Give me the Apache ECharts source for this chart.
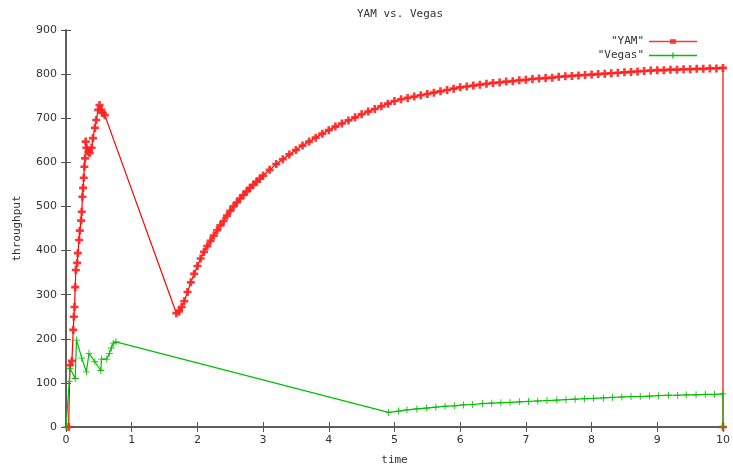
<!DOCTYPE html>
<html>
<head>
<meta charset="utf-8">
<script src="https://cdn.jsdelivr.net/npm/echarts@6/dist/echarts.min.js"></script>
<style>html,body{margin:0;padding:0;background:#fff}#c{width:733px;height:466px}</style>
</head>
<body>
<div id="c"></div>
<script>
var titleText = 'YAM vs. Vegas';
var xName = 'time';
var yName = 'throughput';
var seriesNames = ['"YAM"', '"Vegas"'];
var xTicks = [0,1,2,3,4,5,6,7,8,9,10];
var yTicks = [0,100,200,300,400,500,600,700,800,900];

var yamT = [0.04,0.06,0.09,0.11,0.12,0.13,0.14,0.15,0.17,0.18,0.20,0.21,0.23,0.24,0.25,0.26,0.27,0.28,0.29,0.31,0.30,0.34,0.36,0.39,0.41,0.44,0.46,0.49,0.51,0.54,0.56,0.59,
  1.68,1.72,1.76,1.8,1.85,1.9,1.95,2.0,2.05,2.1,2.15,2.2,2.25,2.3,2.35,2.4,2.45,2.5,2.55,2.6,2.65,2.7,2.75,2.8,2.85,2.9,2.95,
  3.0,3.1,3.2,3.3,3.4,3.5,3.6,3.7,3.8,3.9,4.0,4.1,4.2,4.3,4.4,4.5,4.6,4.7,4.8,4.9,
  5.0,5.1,5.2,5.3,5.4,5.5,5.6,5.7,5.8,5.9,6.0,6.1,6.2,6.3,6.4,6.5,6.6,6.7,6.8,6.9,7.0,7.1,7.2,7.3,7.4,7.5,7.6,7.7,7.8,7.9,
  8.0,8.1,8.2,8.3,8.4,8.5,8.6,8.7,8.8,8.9,9.0,9.1,9.2,9.3,9.4,9.5,9.6,9.7,9.8,9.9,10.0,10.0];
var yamV = [0,140,150,220,250,272,317,356,372,394,424,445,468,488,522,542,565,590,609,633,647,624,621,633,655,678,696,719,730,719,712,707,
  258,262,272,285,306,328,347,365,382,397,410,422,434,446,457,467,479,490,500,509,518,526,534,542,549,556,563,
  570,583,596,607,618,628,638,647,656,665,673,681,688,695,702,709,715,721,727,733,
  739,743,746,749,752,755,758,761,764,767,770,772,774,776,778,780,781,783,784,786,787,789,790,791,792,794,795,796,797,798,
  799,800,801,802,803,804,805,806,807,808,809,809,810,810,811,811,812,812,813,813,814,0];

var vegasT = [0,0.05,0.06,0.14,0.16,0.24,0.31,0.35,0.44,0.53,0.54,0.62,0.66,0.69,0.72,0.76,
  4.91,5.06,5.19,5.34,5.49,5.63,5.77,5.91,6.05,6.19,6.34,6.48,6.62,6.76,6.90,7.04,7.18,7.32,7.47,7.61,7.75,7.89,8.03,8.18,8.32,8.46,8.60,8.74,8.88,9.02,9.17,9.31,9.44,9.59,9.73,9.87,10.0,10.0];
var vegasV = [0,103,133,110,197,156,125,167,148,128,154,154,167,179,190,193,
  33,36,39,41,43,45,47,48,50,51,53,54,55,56,57,58,59,60,61,62,63,64,65,66,67,68,69,69,70,71,72,72,73,73,74,74,75,0];

function pairs(t, v){ var o=[]; for (var i=0;i<t.length;i++) o.push([t[i], v[i]]); return o; }

var monoFont = '"DejaVu Sans Mono", "Liberation Mono", monospace';
var labFont = '"DejaVu Sans", "Liberation Sans", sans-serif';
var border = '#555';
var redPlus = 'path://M2,0H4V2H6V4H4V6H2V4H0V2H2Z';
var greenPlus = 'path://M4.4,0H5.6V4.4H10V5.6H5.6V10H4.4V5.6H0V4.4H4.4Z';

var chart = echarts.init(document.getElementById('c'), null, {renderer:'canvas'});
chart.setOption({
  animation: false,
  backgroundColor: '#fff',
  title: {
    text: titleText, left: 395, top: 4, textAlign: 'center',
    textStyle: {fontFamily: monoFont, fontSize: 11, fontWeight: 'normal', color: '#333'}
  },
  legend: {
    orient: 'vertical', right: 31, top: 31, align: 'right',
    itemWidth: 48, itemHeight: 8, itemGap: 3,
    textStyle: {fontFamily: monoFont, fontSize: 11, color: '#333'},
    data: [
      {name: seriesNames[0], icon: 'path://M0,3.2H48V4.8H0Z M21,1.8H27V6.2H21Z'},
      {name: seriesNames[1], icon: 'path://M0,3.2H48V4.8H0Z M23.4,1H24.6V7H23.4Z'}
    ]
  },
  grid: {left: 66, right: 10, top: 30, bottom: 39, containLabel: false, outerBoundsMode: 'none'},
  xAxis: [{
    type: 'value', min: xTicks[0], max: xTicks[xTicks.length-1], interval: 1,
    name: xName, nameLocation: 'middle', nameGap: 28,
    nameTextStyle: {fontFamily: monoFont, fontSize: 11, color: '#333'},
    axisLine: {show: true, lineStyle: {color: border, width: 1.5}},
    axisTick: {show: true, inside: true, length: 5, lineStyle: {color: border}},
    axisLabel: {fontFamily: labFont, fontSize: 11, color: '#333', margin: 8},
    splitLine: {show: false}
  }, {
    type: 'value', position: 'top', min: xTicks[0], max: xTicks[xTicks.length-1], interval: 1,
    axisLine: {show: true, lineStyle: {color: border, width: 1.5}},
    axisTick: {show: true, inside: true, length: 5, lineStyle: {color: border}},
    axisLabel: {show: false}, splitLine: {show: false}
  }],
  yAxis: [{
    type: 'value', min: yTicks[0], max: yTicks[yTicks.length-1], interval: 100,
    name: yName, nameLocation: 'middle', nameGap: 43,
    nameTextStyle: {fontFamily: monoFont, fontSize: 11, color: '#333'},
    axisLine: {show: true, lineStyle: {color: border, width: 1.5}},
    axisTick: {show: true, inside: true, length: 5, lineStyle: {color: border}},
    axisLabel: {fontFamily: labFont, fontSize: 11, color: '#333', margin: 9},
    splitLine: {show: false}
  }, {
    type: 'value', position: 'right', min: yTicks[0], max: yTicks[yTicks.length-1], interval: 100,
    axisLine: {show: true, lineStyle: {color: border, width: 1.5}},
    axisTick: {show: true, inside: true, length: 5, lineStyle: {color: border}},
    axisLabel: {show: false}, splitLine: {show: false}
  }],
  series: [{
    name: seriesNames[0], type: 'line', data: pairs(yamT, yamV),
    xAxisIndex: 0, yAxisIndex: 0, clip: false,
    symbol: redPlus, symbolSize: 8, showAllSymbol: true,
    lineStyle: {color: '#ff0000', width: 1.2},
    itemStyle: {color: '#ff2020', opacity: 0.9}
  }, {
    name: seriesNames[1], type: 'line', data: pairs(vegasT, vegasV),
    xAxisIndex: 0, yAxisIndex: 0, clip: false,
    symbol: greenPlus, symbolSize: 7, showAllSymbol: true,
    lineStyle: {color: '#00c000', width: 1.2},
    itemStyle: {color: '#00c000'}
  }]
});
</script>
</body>
</html>
